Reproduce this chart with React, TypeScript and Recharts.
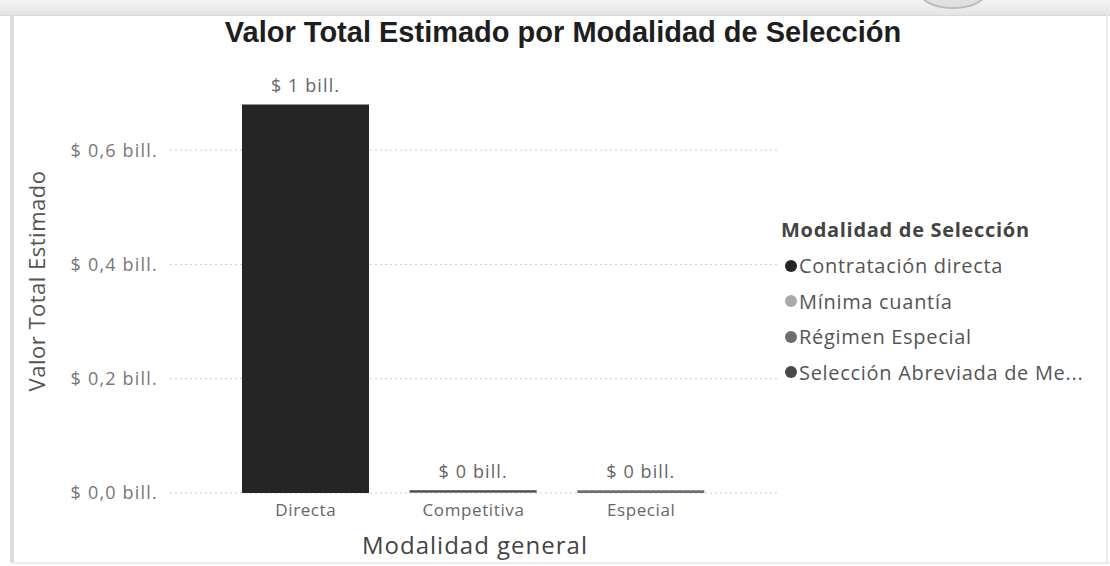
import React from 'react';
import { BarChart, Bar, XAxis, YAxis, CartesianGrid, LabelList } from 'recharts';

const categories = ['Directa', 'Competitiva', 'Especial'];
const contratacionDirecta = [0.68, 0, 0];
const minimaCuantia = [0, 0.001, 0];
const regimenEspecial = [0, 0, 0.005];
const seleccionAbreviada = [0, 0.004, 0];
const yTicks = [0, 0.2, 0.4, 0.6];

const seriesNames = ['Contratación directa', 'Mínima cuantía', 'Régimen Especial', 'Selección Abreviada de Menor Cuantía'];
const legendLabels = ['Contratación directa', 'Mínima cuantía', 'Régimen Especial', 'Selección Abreviada de Me...'];
const seriesColors = ['#252525', '#a9a9a9', '#6e6e6e', '#4a4a4a'];
const seriesValues = [contratacionDirecta, minimaCuantia, regimenEspecial, seleccionAbreviada];

const fmtTotal = (v: number) => `$ ${Math.round(v)} bill.`;
const fmtTick = (v: number) => `$ ${v.toFixed(1).replace('.', ',')} bill.`;

const data = categories.map((cat, i) => {
  const row: any = { cat };
  let total = 0;
  let top = -1;
  seriesValues.forEach((vals, s) => {
    row['s' + s] = vals[i];
    total += vals[i];
    if (vals[i] > 0) top = s;
  });
  seriesValues.forEach((_, s) => {
    row['l' + s] = s === top ? fmtTotal(total) : '';
  });
  return row;
});

const FONT = '"Open Sans", "Noto Sans", sans-serif';

const LegendBlock = () => (
  <div style={{ position: 'absolute', left: 781, top: 217, fontFamily: FONT }}>
    <div style={{ fontWeight: 700, fontSize: 20, letterSpacing: 0.7, color: '#444', height: 26, lineHeight: '26px', whiteSpace: 'nowrap' }}>Modalidad de Selección</div>
    <div style={{ height: 5 }} />
    {legendLabels.map((name, i) => (
      <div key={name} style={{ display: 'flex', alignItems: 'center', height: 35.5 }}>
        <span style={{ display: 'inline-block', width: 12, height: 12, borderRadius: 6, background: seriesColors[i], marginLeft: 4, marginRight: 2 }} />
        <span style={{ fontSize: 20, letterSpacing: 0.7, color: '#555', whiteSpace: 'nowrap' }}>{name}</span>
      </div>
    ))}
  </div>
);

const YTitle = (props: any) => {
  const vb = props.viewBox || { y: 93, height: 400 };
  const cy = vb.y + vb.height / 2 - 12;
  return (
    <text x={36} y={cy} transform={`rotate(-90 36 ${cy})`} textAnchor="middle" dominantBaseline="central"
      fontFamily={FONT} fontSize={22} letterSpacing={0.5} fill="#555">Valor Total Estimado</text>
  );
};

export default function App() {
  return (
    <div style={{ position: 'absolute', left: 0, top: 0, width: 1110, height: 566, background: '#fff', overflow: 'hidden' }}>
      <div style={{ position: 'absolute', left: 0, top: 0, width: 1110, height: 15, background: 'linear-gradient(#f4f4f4, #e4e4e4)', borderBottom: '1px solid #d8d8d8' }} />
      <div style={{ position: 'absolute', left: 920, top: -22, width: 62, height: 27, borderRadius: '50%', border: '2px solid #bbb', background: '#e0e0e0' }} />
      <div style={{ position: 'absolute', left: 10, top: 15, width: 4, height: 548, background: '#dcdcdc' }} />
      <div style={{ position: 'absolute', left: 10, top: 562, width: 1100, height: 2, background: '#ececec' }} />
      <div style={{ position: 'absolute', left: 1106, top: 15, width: 2, height: 548, background: '#eeeeee' }} />
      <div style={{ position: 'absolute', left: 0, top: 14, width: 1110, textAlign: 'center', paddingLeft: 16, boxSizing: 'border-box',
        fontFamily: '"Liberation Sans", Arial, sans-serif', fontWeight: 700, fontSize: 29, color: '#1e1e1e', lineHeight: '36px' }}>
        Valor Total Estimado por Modalidad de Selección
      </div>
      <BarChart width={1110} height={566} data={data} margin={{ top: 93, right: 330, bottom: 0, left: 0 }} style={{ position: 'absolute', left: 0, top: 0 }}>
        <CartesianGrid vertical={false} stroke="#cccccc" strokeDasharray="2 3" horizontalValues={yTicks} />
        <XAxis dataKey="cat" axisLine={false} tickLine={false} height={73} tickMargin={5} interval={0}
          padding={{ left: 52, right: 55 }}
          tick={{ fontFamily: FONT, fontSize: 17, fill: '#666', letterSpacing: 0.6 }}
          label={{ value: 'Modalidad general', position: 'insideBottom', offset: 12, fontFamily: FONT, fontSize: 24, fill: '#444', letterSpacing: 1 }} />
        <YAxis width={170} domain={[0, 0.7]} ticks={yTicks} tickFormatter={fmtTick} axisLine={false} tickLine={false} tickMargin={6}
          tick={{ fontFamily: FONT, fontSize: 18, fill: '#777', letterSpacing: 1.2 }}
          label={{ content: <YTitle /> }} />
        {seriesNames.map((name, s) => (
          <Bar key={name} dataKey={'s' + s} name={name} stackId="a" fill={seriesColors[s]} barSize={127} isAnimationActive={false}>
            <LabelList dataKey={'l' + s} position="top" offset={12} fontFamily={FONT} fontSize={18} fill="#666" letterSpacing={1.1} />
          </Bar>
        ))}
      </BarChart>
      <LegendBlock />
    </div>
  );
}
